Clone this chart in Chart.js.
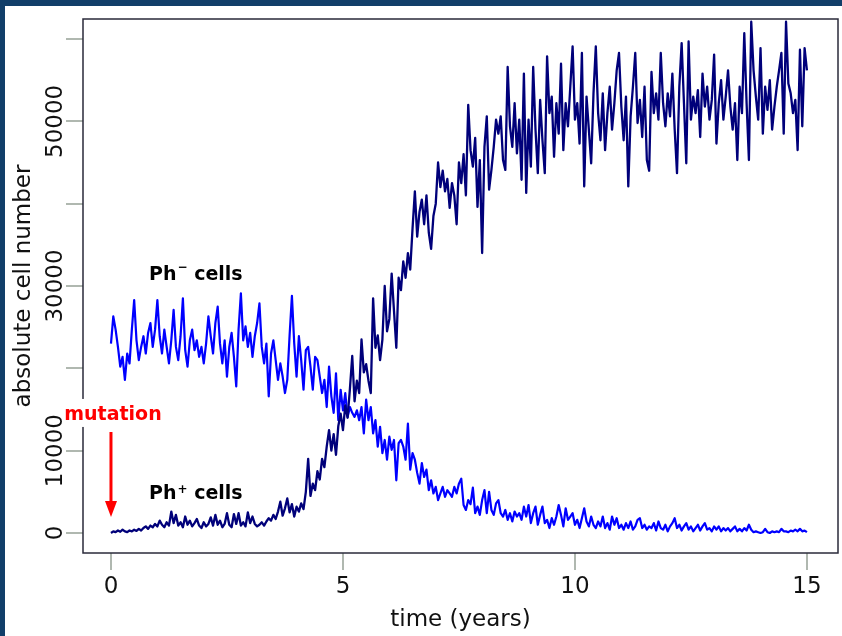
<!DOCTYPE html>
<html>
<head>
<meta charset="utf-8">
<title>Ph- and Ph+ cells over time</title>
<script src="https://cdn.jsdelivr.net/npm/chart.js@4.4.1/dist/chart.umd.min.js"></script>
<style>
  html, body { margin: 0; padding: 0; background: #113e69; }
  body { width: 842px; height: 636px; overflow: hidden; position: relative; }
  #wrap { position: absolute; left: 5px; top: 6px; width: 837px; height: 630px; background: #fff; }
</style>
</head>
<body>
<div id="wrap"><canvas id="chart" width="837" height="630"></canvas></div>
<script>
// one sample every 0.05 years, from year 0 to year 15
const STEP = 0.05;

// Ph- cells (blue)
const phMinus = [
  23000, 26300, 24700, 22600, 20200, 21400, 18600, 21800, 20600, 24700,
  28300, 23400, 21000, 22600, 23900, 21800, 24300, 25500, 22600, 24700,
  28300, 23900, 21800, 24700, 22600, 20600, 23400, 27100, 22600, 21000,
  23900, 28500, 22200, 20200, 23400, 24700, 22200, 23400, 21400, 22600,
  20600, 23000, 26300, 23900, 21800, 25500, 27500, 23000, 20600, 23400,
  19000, 22600, 24300, 21400, 17800, 24700, 29100, 23400, 25100, 22600,
  24300, 21400, 23900, 25500, 27900, 22600, 20600, 23000, 16600, 21800,
  23400, 21000, 18600, 20600, 19000, 17000, 18600, 24000, 28800, 23000,
  19000, 23900, 21000, 17400, 22200, 22600, 20200, 17400, 21400, 21000,
  19000, 17000, 18600, 15300, 20200, 16600, 14600, 19400, 13700, 17400,
  14900, 17000, 14100, 15300, 14600, 14100, 14900, 13700, 15300, 12100,
  16200, 13700, 15300, 12100, 13700, 10500, 12900, 9700, 11300, 8900,
  11700, 10100, 11300, 6400, 10900, 11300, 10500, 8900, 13300, 7700,
  9700, 8900, 7300, 6000, 8500, 6800, 7700, 5200, 6400, 4800,
  5600, 4000, 4800, 5600, 4400, 5200, 4800, 4400, 5600, 4800,
  6000, 6600, 3400, 2800, 4000, 3500, 5500, 2400, 3200, 2200,
  4000, 5200, 2400, 5000, 2800, 2200, 3600, 4000, 2400, 2000,
  2800, 1600, 2400, 1400, 2600, 2000, 2400, 1600, 3200, 2000,
  3400, 1200, 2400, 3200, 1000, 2200, 3200, 1200, 1600, 600,
  1800, 1000, 2000, 3400, 2200, 800, 3000, 1600, 2000, 2400,
  1000, 1600, 600, 1800, 3000, 1400, 800, 2000, 1000, 600,
  1400, 800, 2000, 600, 1200, 400, 2000, 1000, 1800, 600,
  1000, 400, 1200, 600, 1400, 400, 800, 1600, 1800, 600,
  1000, 400, 800, 600, 1200, 300, 1400, 600, 400, 1000,
  200, 800, 1200, 1800, 600, 1000, 300, 800, 1200, 400,
  800, 200, 600, 1000, 300, 800, 1200, 400, 600, 200,
  800, 400, 800, 200, 600, 300, 600, 200, 500, 800,
  200, 500, 200, 600, 300, 1000, 400, 100, 200, 100,
  0, 100, 500, 100, 0, 200, 100, 200, 100, 500,
  200, 200, 100, 300, 200, 400, 200, 500, 200, 300,
  100
];

// Ph+ cells (navy)
const phPlus = [
  0, 200, 100, 300, 150, 400, 200, 100, 300, 200,
  400, 250, 500, 300, 600, 800, 500, 900, 700, 1100,
  800, 1500, 1000, 700, 1300, 900, 2600, 1200, 2200, 900,
  1300, 700, 2000, 1000, 1500, 800, 1200, 1700, 900, 600,
  1300, 800, 1100, 1900, 900, 2200, 1000, 1500, 700, 1100,
  2400, 1000, 700, 2300, 1100, 2400, 900, 1300, 800, 2500,
  1200, 2000, 1100, 800, 1000, 1300, 900, 1400, 1800, 1500,
  2200, 1700, 2600, 3800, 2100, 3000, 4200, 2500, 3500, 2000,
  3200, 2600, 3600, 2900, 5000, 9000, 4500, 6000, 5200, 7500,
  6500, 9000, 8000, 10500, 12500, 10000, 12000, 9500, 13000, 14500,
  12500, 15500, 14000, 17500, 21500, 16000, 18500, 17000, 23500, 19500,
  20500, 18500, 17000, 28500, 22500, 24000, 21000, 23500, 30000, 24500,
  26000, 31500, 27000, 22500, 31000, 29500, 33000, 31000, 34000, 32000,
  37000, 41500, 36000, 39000, 40500, 37500, 41000, 36500, 34500, 38500,
  40000, 45000, 42000, 44000, 41500, 43000, 39500, 42500, 41000, 37500,
  45000, 42500, 46000, 41000, 52000, 46500, 44500, 48000, 39600, 45300,
  34000, 46900, 50600, 41700, 44100, 46900, 50200, 48500, 50600, 45300,
  44100, 56600, 49400, 46900, 52200, 46100, 50200, 42900, 55800, 41300,
  50200, 44500, 56600, 49000, 43700, 52600, 47700, 43700, 57900, 51000,
  53000, 45700, 52200, 48500, 57000, 46500, 52200, 49400, 54200, 59100,
  50200, 52200, 47300, 58300, 42100, 53000, 49000, 44900, 53400, 59100,
  51000, 47700, 53400, 46500, 51000, 54200, 49000, 52200, 56200, 58300,
  51800, 47700, 53000, 42100, 50600, 54200, 58300, 49800, 52600, 48100,
  54200, 45300, 44000, 56000, 51000, 53400, 50200, 58300, 52200, 49400,
  53400, 50600, 55800, 49000, 43700, 54200, 59500, 52200, 44900, 59700,
  50200, 53000, 51000, 53800, 48100, 55800, 51800, 54200, 50200, 52600,
  58100, 47300, 52200, 55000, 50200, 53000, 56200, 51800, 49000, 52200,
  45300, 54200, 51000, 60700, 52200, 45300, 62100, 56200, 53000, 50200,
  58900, 48500, 54200, 51400, 55000, 49000, 51800, 54200, 56200, 58300,
  48500, 62100, 54600, 53400, 51000, 52600, 46500, 58700, 49400, 58900,
  56200
];

const xTicks = [0, 5, 10, 15];
const yTicks = [0, 10000, 20000, 30000, 40000, 50000, 60000];
const yTickLabels = [0, 10000, 30000, 50000];

const FONT = 'DejaVu Sans';
Chart.defaults.font.family = FONT;

const toPoints = (arr) => arr.map((v, i) => ({ x: Math.round(i * STEP * 100) / 100, y: v }));

function phLabel(ctx, x, y, sign, lift) {
  ctx.fillStyle = '#000';
  ctx.textAlign = 'left';
  ctx.textBaseline = 'alphabetic';
  ctx.font = `bold 19px "${FONT}"`;
  ctx.fillText('Ph', x, y);
  let w = ctx.measureText('Ph').width + 1;
  ctx.font = `bold 12px "${FONT}"`;
  ctx.fillText(sign, x + w, y - lift);
  w += ctx.measureText(sign).width;
  ctx.font = `bold 19px "${FONT}"`;
  ctx.fillText(' cells', x + w, y);
}

// box, rotated y labels and the text notes
const notes = {
  id: 'notes',
  afterDraw(chart) {
    const ctx = chart.ctx;
    const { left, top, right, bottom } = chart.chartArea;
    const xs = chart.scales.x, ys = chart.scales.y;
    ctx.save();

    ctx.strokeStyle = '#2a2a3a';
    ctx.lineWidth = 1.5;
    ctx.strokeRect(left, top, right - left, bottom - top);

    ctx.fillStyle = '#111';
    ctx.font = `23px "${FONT}"`;
    ctx.textAlign = 'center';
    ctx.textBaseline = 'alphabetic';
    yTickLabels.forEach(v => {
      ctx.save();
      ctx.translate(left - 21, ys.getPixelForValue(v));
      ctx.rotate(-Math.PI / 2);
      ctx.fillText(String(v), 0, 0);
      ctx.restore();
    });

    phLabel(ctx, xs.getPixelForValue(0.82), ys.getPixelForValue(30730), '\u2212', 9);
    phLabel(ctx, xs.getPixelForValue(0.82), ys.getPixelForValue(4130), '+', 6);

    // mutation note, white behind it so it hides the box line
    const mx = xs.getPixelForValue(0) + 2;
    const my = ys.getPixelForValue(13730);
    ctx.font = `bold 19px "${FONT}"`;
    const mw = ctx.measureText('mutation').width;
    ctx.fillStyle = '#fff';
    ctx.fillRect(mx - mw / 2 - 1, my - 21, mw + 2, 28);
    ctx.fillStyle = '#ff0000';
    ctx.textAlign = 'center';
    ctx.fillText('mutation', mx, my);

    const ax = xs.getPixelForValue(0);
    const a0 = ys.getPixelForValue(12270);
    const a1 = ys.getPixelForValue(1940);
    ctx.strokeStyle = '#ff0000';
    ctx.lineWidth = 3;
    ctx.beginPath();
    ctx.moveTo(ax, a0);
    ctx.lineTo(ax, a1 - 12);
    ctx.stroke();
    ctx.beginPath();
    ctx.moveTo(ax - 6, a1 - 16);
    ctx.lineTo(ax + 6, a1 - 16);
    ctx.lineTo(ax, a1);
    ctx.closePath();
    ctx.fill();

    ctx.restore();
  }
};

const tickGrid = { drawOnChartArea: false, drawTicks: true, tickLength: 17, color: '#b0b8b0', lineWidth: 2 };

new Chart(document.getElementById('chart'), {
  type: 'line',
  data: {
    datasets: [
      {
        label: 'Ph+ cells',
        data: toPoints(phPlus),
        borderColor: '#00007a',
        borderWidth: 2.3,
        borderJoinStyle: 'round',
        pointRadius: 0,
        tension: 0
      },
      {
        label: 'Ph- cells',
        data: toPoints(phMinus),
        borderColor: '#0000ff',
        borderWidth: 2.2,
        borderJoinStyle: 'round',
        pointRadius: 0,
        tension: 0
      }
    ]
  },
  options: {
    responsive: false,
    animation: false,
    devicePixelRatio: 1,
    layout: { padding: { top: 13, right: 4, left: 0, bottom: 0 } },
    plugins: {
      legend: { display: false },
      tooltip: { enabled: false }
    },
    scales: {
      x: {
        type: 'linear',
        min: -0.603,
        max: 15.67,
        afterBuildTicks: (s) => { s.ticks = xTicks.map(v => ({ value: v })); },
        afterFit: (s) => { s.height = 83; },
        grid: tickGrid,
        border: { display: false },
        ticks: { color: '#111', font: { size: 23 }, padding: 3, maxRotation: 0, autoSkip: false },
        title: { display: true, text: 'time (years)', color: '#111', font: { size: 23 }, padding: { top: 0, bottom: 2 } }
      },
      y: {
        type: 'linear',
        min: -2430,
        max: 62430,
        afterBuildTicks: (s) => { s.ticks = yTicks.map(v => ({ value: v })); },
        afterFit: (s) => { s.width = 78; },
        grid: tickGrid,
        border: { display: false },
        ticks: { display: false },
        title: { display: true, text: 'absolute cell number', color: '#111', font: { size: 23 }, padding: { top: 5, bottom: 0 } }
      }
    }
  },
  plugins: [notes]
});
</script>
</body>
</html>
